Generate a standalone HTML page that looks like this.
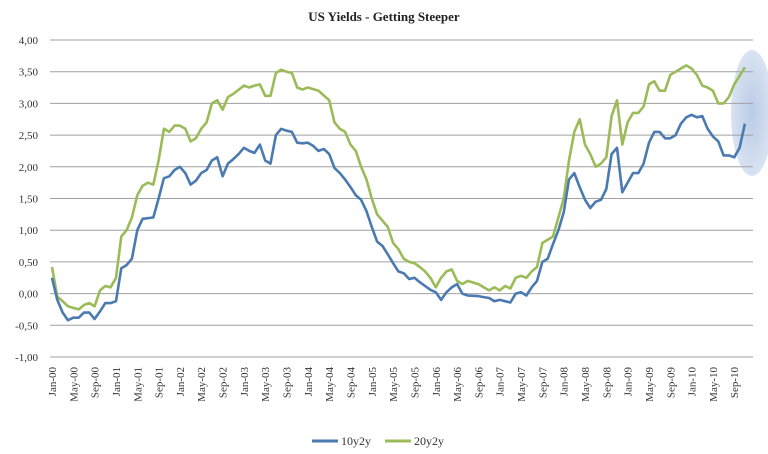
<!DOCTYPE html>
<html><head><meta charset="utf-8"><style>
html,body{margin:0;padding:0;background:#fff;}
svg{display:block;font-family:"Liberation Serif",serif;}
</style></head><body>
<svg id="s" width="768" height="454" viewBox="0 0 768 454">
<defs><radialGradient id="g" cx="0.5" cy="0.5" r="0.5"><stop offset="0" stop-color="#b9cbe6"/><stop offset="1" stop-color="#d9e3f2"/></radialGradient></defs>
<ellipse cx="752" cy="113" rx="21" ry="63" fill="url(#g)"/>
<text x="384" y="21" text-anchor="middle" font-size="13" font-weight="bold" fill="#222">US Yields - Getting Steeper</text>
<g id="grid"></g><g id="lines"></g>
<line x1="312" y1="441" x2="338" y2="441" stroke="#4a7ab0" stroke-width="3"/>
<text x="341" y="445" font-size="12" fill="#333">10y2y</text>
<line x1="385" y1="441" x2="411" y2="441" stroke="#9bbb59" stroke-width="3"/>
<text x="414" y="445" font-size="12" fill="#333">20y2y</text>
</svg>
<script>
var NS="http://www.w3.org/2000/svg";
function Y(v){return 40+(4-v)*63.4;}
function X(i){return 52+i*5.33;}
var grid=document.getElementById("grid"),lines=document.getElementById("lines");
function el(t,a,p,txt){var e=document.createElementNS(NS,t);for(var k in a)e.setAttribute(k,a[k]);if(txt)e.textContent=txt;p.appendChild(e);return e;}
for(var k=0;k<=10;k++){var v=4-k*0.5,y=Y(v);
el("line",{x1:50,x2:753,y1:y,y2:y,stroke:"#a0a0a0","stroke-width":1},grid);
el("text",{x:38,y:y+4,"text-anchor":"end","font-size":11,fill:"#333"},grid,v.toFixed(2).replace(".",",").replace("-","-"));}
var m=["Jan","May","Sep"];
for(var j=0;j<33;j++){var x=X(j*4)+4,yr=Math.floor(j/3);
var lab=m[j%3]+"-"+(yr<10?"0"+yr:yr);
el("text",{x:0,y:0,"text-anchor":"end","font-size":11,fill:"#333",transform:"translate("+x+",367) rotate(-90)"},grid,lab);}
function interp(kp){var out=[];for(var i=0;i<kp.length-1;i++){var a=kp[i],b=kp[i+1];for(var t=a[0];t<b[0];t++)out.push([t,a[1]+(b[1]-a[1])*(t-a[0])/(b[0]-a[0])]);}out.push(kp[kp.length-1]);return out;}
var blue=[[0,0.25],[1,-0.1],[2,-0.3],[3,-0.42],[4,-0.38],[5,-0.38],[6,-0.3],[7,-0.3],[8,-0.4],[9,-0.28],[10,-0.15],[11,-0.15],[12,-0.12],[13,0.4],[14,0.45],[15,0.55],[16,1.0],[17,1.18],[19,1.2],[20,1.5],[21,1.82],[22,1.85],[23,1.95],[24,2.0],[25,1.9],[26,1.72],[27,1.78],[28,1.9],[29,1.95],[30,2.1],[31,2.15],[32,1.85],[33,2.05],[34,2.12],[35,2.2],[36,2.3],[37,2.25],[38,2.22],[39,2.35],[40,2.1],[41,2.05],[42,2.5],[43,2.6],[44,2.57],[45,2.55],[46,2.38],[47,2.37],[48,2.38],[49,2.33],[50,2.25],[51,2.28],[52,2.2],[53,1.98],[54,1.9],[55,1.8],[56,1.68],[57,1.55],[58,1.48],[59,1.3],[60,1.05],[61,0.82],[62,0.75],[63,0.62],[64,0.48],[65,0.35],[66,0.32],[67,0.23],[68,0.25],[69,0.18],[70,0.12],[71,0.06],[72,0.02],[73,-0.1],[74,0.02],[75,0.1],[76,0.15],[77,0.0],[78,-0.03],[80,-0.04],[82,-0.07],[83,-0.12],[84,-0.1],[85,-0.12],[86,-0.14],[87,0.0],[88,0.02],[89,-0.03],[90,0.1],[91,0.2],[92,0.5],[93,0.55],[94,0.78],[95,1.0],[96,1.28],[97,1.8],[98,1.9],[99,1.68],[100,1.48],[101,1.35],[102,1.45],[103,1.48],[104,1.65],[105,2.2],[106,2.3],[107,1.6],[108,1.75],[109,1.9],[110,1.9],[111,2.05],[112,2.38],[113,2.55],[114,2.55],[115,2.45],[116,2.45],[117,2.5],[118,2.68],[119,2.78],[120,2.82],[121,2.78],[122,2.8],[123,2.6],[124,2.48],[125,2.4],[126,2.18],[127,2.18],[128,2.15],[129,2.3],[130,2.68]];
var green=[[0,0.42],[1,-0.05],[2,-0.12],[3,-0.2],[5,-0.25],[6,-0.18],[7,-0.15],[8,-0.2],[9,0.05],[10,0.12],[11,0.1],[12,0.25],[13,0.9],[14,1.0],[15,1.2],[16,1.55],[17,1.7],[18,1.75],[19,1.72],[20,2.1],[21,2.6],[22,2.55],[23,2.65],[24,2.65],[25,2.6],[26,2.4],[27,2.45],[28,2.6],[29,2.7],[30,3.0],[31,3.05],[32,2.9],[33,3.1],[34,3.15],[36,3.28],[37,3.25],[38,3.28],[39,3.3],[40,3.12],[41,3.12],[42,3.48],[43,3.53],[44,3.5],[45,3.48],[46,3.25],[47,3.22],[48,3.25],[50,3.2],[52,3.05],[53,2.7],[54,2.6],[55,2.55],[56,2.35],[57,2.25],[58,2.0],[59,1.8],[60,1.5],[61,1.25],[62,1.15],[63,1.05],[64,0.8],[65,0.7],[66,0.55],[67,0.5],[68,0.48],[69,0.42],[70,0.35],[71,0.25],[72,0.1],[73,0.25],[74,0.35],[75,0.38],[76,0.2],[77,0.15],[78,0.2],[80,0.15],[82,0.05],[83,0.1],[84,0.05],[85,0.12],[86,0.08],[87,0.25],[88,0.28],[89,0.25],[90,0.35],[91,0.42],[92,0.8],[93,0.85],[94,0.9],[95,1.2],[96,1.5],[97,2.1],[98,2.55],[99,2.75],[100,2.35],[101,2.2],[102,2.0],[103,2.05],[104,2.15],[105,2.8],[106,3.05],[107,2.35],[108,2.7],[109,2.85],[110,2.85],[111,2.95],[112,3.3],[113,3.35],[114,3.2],[115,3.2],[116,3.45],[117,3.5],[118,3.55],[119,3.6],[120,3.55],[121,3.45],[122,3.28],[123,3.25],[124,3.2],[125,3.0],[126,3.0],[127,3.1],[128,3.3],[130,3.57]];
function draw(kp,c){var p=interp(kp).map(function(q){return X(q[0]).toFixed(1)+","+Y(q[1]).toFixed(1);}).join(" ");
el("polyline",{points:p,fill:"none",stroke:c,"stroke-width":2.6,"stroke-linejoin":"round"},lines);}
draw(green,"#9bbb59");draw(blue,"#4a7ab0");
</script>
</body></html>
